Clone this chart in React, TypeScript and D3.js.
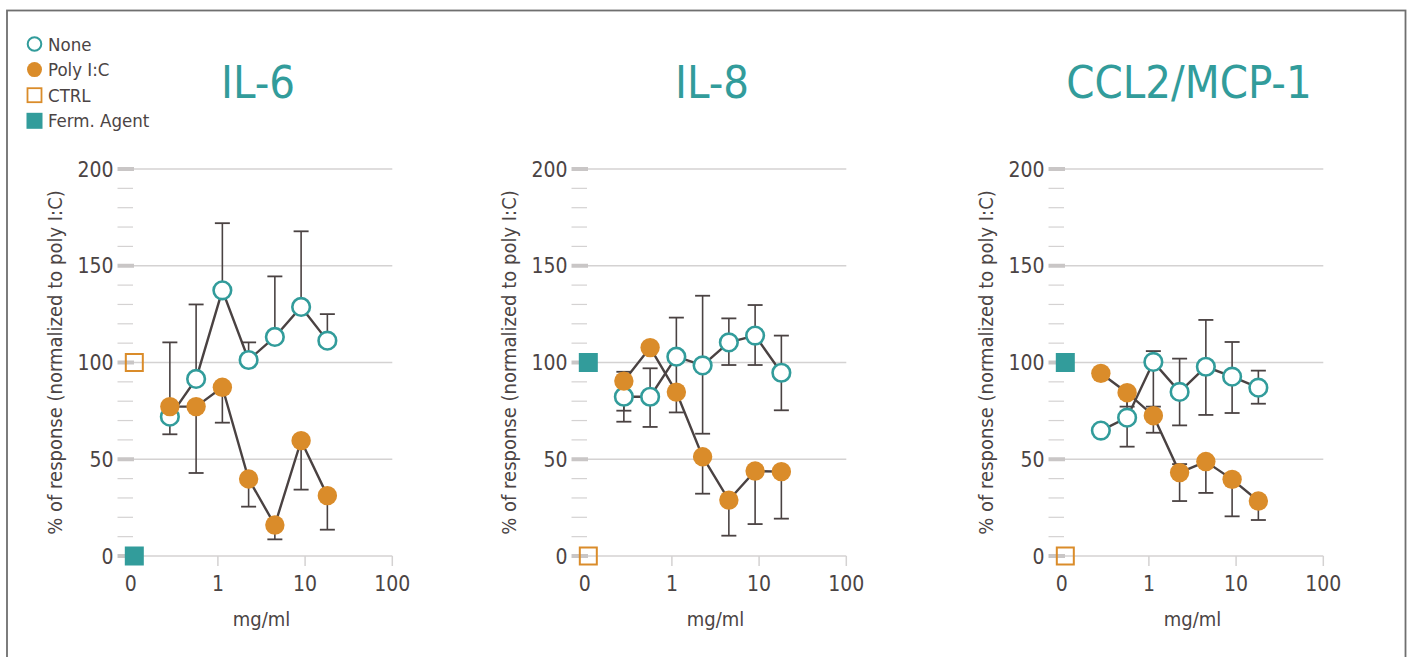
import * as d3 from "d3";
import React from "react";

// doses (mg/ml), log scale; the controls sit at the "0" end of the axis
const DOSES = [0.28125, 0.5625, 1.125, 2.25, 4.5, 9, 18];
const CONTROL_DOSE = 0.11;

const PANEL_TITLES = ["IL-6", "IL-8", "CCL2/MCP-1"];

// None series: mean, top of whisker, bottom of whisker (null = not shown)
const NONE_MEAN = [
  [72.0, 91.5, 137.3, 101.3, 113.2, 128.7, 111.3],
  [82.3, 82.3, 103.0, 98.5, 110.4, 113.9, 94.7],
  [64.8, 71.5, 100.3, 84.8, 97.8, 92.7, 87.0],
];
const NONE_HI = [
  [110.4, 130.0, 172.0, 110.4, 144.5, 167.8, 125.0],
  [95.2, 97.0, 123.2, 134.5, 122.8, 129.7, 113.9],
  [null, 86.5, 105.9, 102.0, 122.0, 110.6, 95.8],
];
const NONE_LO = [
  [null, null, null, null, null, null, null],
  [69.4, 66.7, 83.0, 63.2, 98.7, 98.7, 75.3],
  [null, 56.5, 77.2, 67.5, 72.9, 73.9, 78.7],
];

// Poly I:C series
const POLY_MEAN = [
  [77.2, 77.2, 87.2, 39.8, 16.0, 59.6, 31.2],
  [90.4, 107.7, 84.7, 51.3, 28.9, 43.9, 43.6],
  [94.4, 84.4, 72.5, 43.1, 48.8, 39.6, 28.4],
];
const POLY_HI = [
  [null, null, null, null, null, null, null],
  [null, null, null, null, null, null, null],
  [null, null, null, 47.5, null, null, null],
];
const POLY_LO = [
  [62.9, 42.9, 68.9, 25.5, 8.6, 34.3, 13.6],
  [75.1, null, 74.2, 32.2, 10.5, 16.5, 19.3],
  [null, 77.2, 63.7, 28.4, 32.6, 20.5, 18.6],
];

// controls
const CTRL_VALUE = [100, 0, 0];
const FERM_VALUE = [0, 100, 100];

const X_TICKS = [0.1, 1, 10, 100];
const X_TICK_LABELS = ["0", "1", "10", "100"];
const Y_MAJOR = [0, 50, 100, 150, 200];
const Y_MINOR = d3.range(0, 201, 10).filter((v) => v % 50 !== 0);

const LEGEND = ["None", "Poly I:C", "CTRL", "Ferm. Agent"];

const TEAL = "#329c9b";
const ORANGE = "#da8c2a";
const INK = "#4b4444";
const LINE = "#4a4242";
const GRID = "#d4d2d2";
const TICK = "#c9c6c6";
const FONT = "'DejaVu Sans Condensed', 'DejaVu Sans', sans-serif";

const PANEL_OFFSETS = [0, 454, 931];

function Panel({ idx }: { idx: number }) {
  const off = PANEL_OFFSETS[idx];
  const x = d3.scaleLog().domain([0.1, 100]).range([130.7 + off, 392.3 + off]);
  const y = d3.scaleLinear().domain([0, 200]).range([556, 169]);
  const gridStart = 134 + off;
  const tickStart = 117.5 + off;
  const xEnd = x(100);

  const line = d3
    .line<number>()
    .x((_, i) => x(DOSES[i]))
    .y((d) => y(d));

  const whiskers = (mean: number[], hi: (number | null)[], lo: (number | null)[]) =>
    mean.flatMap((m, i) => {
      const cx = x(DOSES[i]);
      const out: JSX.Element[] = [];
      [hi[i], lo[i]].forEach((v, k) => {
        if (v == null) return;
        out.push(
          <g key={`${i}-${k}`}>
            <line x1={cx} x2={cx} y1={y(m)} y2={y(v)} stroke={LINE} strokeWidth={1.6} />
            <line x1={cx - 7.5} x2={cx + 7.5} y1={y(v)} y2={y(v)} stroke={LINE} strokeWidth={1.8} />
          </g>
        );
      });
      return out;
    });

  const sq = 19;
  const cx = x(CONTROL_DOSE);
  const xMid = (x(0.1) + x(100)) / 2;

  return (
    <g>
      <text
        x={258 + off}
        y={98}
        textAnchor="middle"
        fontSize={45}
        fill={TEAL}
        fontFamily={FONT}
      >
        {PANEL_TITLES[idx]}
      </text>

      {/* grid */}
      {Y_MAJOR.map((v) => (
        <line key={"g" + v} x1={gridStart} x2={xEnd} y1={y(v)} y2={y(v)} stroke={GRID} strokeWidth={1.5} />
      ))}
      {Y_MINOR.map((v) => (
        <line key={"m" + v} x1={tickStart} x2={gridStart - 1} y1={y(v)} y2={y(v)} stroke={GRID} strokeWidth={1.2} />
      ))}
      {Y_MAJOR.map((v) => (
        <g key={"t" + v}>
          <line x1={tickStart} x2={gridStart} y1={y(v)} y2={y(v)} stroke={TICK} strokeWidth={4} />
          <text
            x={tickStart - 4}
            y={y(v)}
            dy="0.36em"
            textAnchor="end"
            fontSize={21}
            fill={INK}
            fontFamily={FONT}
          >
            {v}
          </text>
        </g>
      ))}
      {X_TICKS.map((t, i) => (
        <g key={"x" + t}>
          {t > 0.1 && <line x1={x(t)} x2={x(t)} y1={y(0)} y2={y(0) + 10} stroke={GRID} strokeWidth={1.5} />}
          <text
            x={x(t)}
            y={591}
            textAnchor="middle"
            fontSize={21}
            fill={INK}
            fontFamily={FONT}
          >
            {X_TICK_LABELS[i]}
          </text>
        </g>
      ))}
      <text x={xMid} y={626} textAnchor="middle" fontSize={20} fill={INK} fontFamily={FONT}>
        mg/ml
      </text>
      <text
        transform={`translate(${62 + off},${(y(0) + y(200)) / 2}) rotate(-90)`}
        textAnchor="middle"
        fontSize={20}
        fill={INK}
        fontFamily={FONT}
      >
        % of response (normalized to poly I:C)
      </text>

      {/* series */}
      <path d={line(NONE_MEAN[idx]) || ""} fill="none" stroke={LINE} strokeWidth={2.4} />
      <path d={line(POLY_MEAN[idx]) || ""} fill="none" stroke={LINE} strokeWidth={2.4} />
      {whiskers(NONE_MEAN[idx], NONE_HI[idx], NONE_LO[idx])}
      {whiskers(POLY_MEAN[idx], POLY_HI[idx], POLY_LO[idx])}
      {NONE_MEAN[idx].map((v, i) => (
        <circle key={"n" + i} cx={x(DOSES[i])} cy={y(v)} r={8.8} fill="#fff" stroke={TEAL} strokeWidth={2.6} />
      ))}
      {POLY_MEAN[idx].map((v, i) => (
        <circle key={"p" + i} cx={x(DOSES[i])} cy={y(v)} r={9.7} fill={ORANGE} />
      ))}

      {/* controls */}
      <rect x={cx - sq / 2} y={y(FERM_VALUE[idx]) - sq / 2} width={sq} height={sq} fill={TEAL} />
      <rect
        x={cx - sq / 2 + 1}
        y={y(CTRL_VALUE[idx]) - sq / 2 + 1}
        width={sq - 2}
        height={sq - 2}
        fill="none"
        stroke={ORANGE}
        strokeWidth={2}
      />
    </g>
  );
}

function Legend() {
  const rows = LEGEND.map((label, i) => ({ label, y: 44 + i * 25.6 }));
  return (
    <g fontFamily={FONT} fontSize={18.5} fill={INK}>
      {rows.map((r, i) => (
        <g key={r.label}>
          {i === 0 && <circle cx={34.5} cy={r.y} r={6.8} fill="#fff" stroke={TEAL} strokeWidth={2} />}
          {i === 1 && <circle cx={34.5} cy={r.y} r={7.5} fill={ORANGE} />}
          {i === 2 && (
            <rect x={27.5} y={r.y - 7} width={14} height={14} fill="none" stroke={ORANGE} strokeWidth={1.8} />
          )}
          {i === 3 && <rect x={26.5} y={r.y - 8} width={16} height={16} fill={TEAL} />}
          <text x={48} y={r.y + 6.5}>
            {r.label}
          </text>
        </g>
      ))}
    </g>
  );
}

export default function App() {
  return (
    <svg
      width={1411}
      height={657}
      style={{ position: "absolute", left: 0, top: 0, background: "#fff" }}
    >
      <rect x={7} y={10.5} width={1398.5} height={700} fill="none" stroke="#6f6f6f" strokeWidth={1.8} />
      <Legend />
      {PANEL_TITLES.map((_, i) => (
        <Panel key={i} idx={i} />
      ))}
    </svg>
  );
}
